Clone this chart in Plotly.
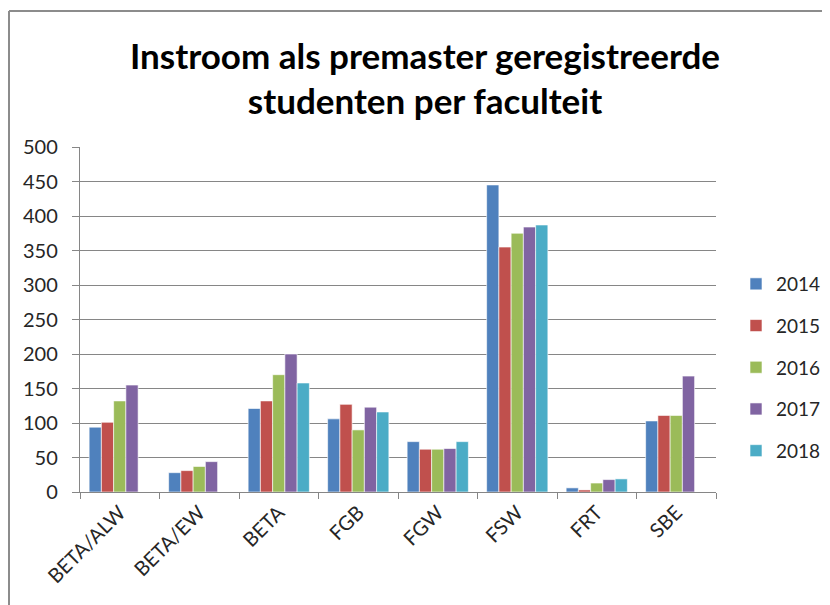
import plotly.graph_objects as go

categories = ["BETA/ALW", "BETA/EW", "BETA", "FGB", "FGW", "FSW", "FRT", "SBE"]
years = ["2014", "2015", "2016", "2017", "2018"]
v2014 = [94, 28, 121, 106, 73, 445, 6, 103]
v2015 = [101, 31, 132, 127, 62, 355, 3, 111]
v2016 = [132, 37, 170, 90, 62, 375, 13, 111]
v2017 = [155, 44, 200, 123, 63, 384, 18, 168]
v2018 = [None, None, 158, 116, 73, 387, 19, None]
series = [v2014, v2015, v2016, v2017, v2018]
colors = ["#4F81BD", "#C0504D", "#9BBB59", "#8064A2", "#4BACC6"]

FONT = "Lato, 'Noto Sans', sans-serif"

fig = go.Figure()
for name, vals, c in zip(years, series, colors):
    fig.add_trace(go.Bar(
        x=categories, y=vals, name=name, legendgroup=name,
        marker=dict(color=c, line=dict(color="rgba(255,255,255,0.6)", width=1)),
    ))

W, H = 830, 605
L, R, T, B = 72, 708, 139, 484
pw, ph = R - L, B - T

def px(x):
    return (x - L) / pw

def py(y):
    return (B - y) / ph

fig.update_layout(
    width=W, height=H,
    margin=dict(l=L, r=W - R, t=T, b=H - B, autoexpand=False),
    paper_bgcolor="white", plot_bgcolor="white",
    barmode="group", bargap=0.23, bargroupgap=0,
    title=dict(
        text="<b>Instroom als premaster geregistreerde<br>studenten per faculteit</b>",
        x=0.5024, xanchor="center", y=0.90, yanchor="middle",
        font=dict(family=FONT, size=35, color="#000000"),
    ),
    font=dict(family=FONT, size=20, color="#262626"),
    xaxis=dict(
        type="category", tickangle=-45, tickson="boundaries",
        ticks="outside", ticklen=6, tickcolor="#868686",
        showline=True, linecolor="#868686", linewidth=1,
        showgrid=False, tickfont=dict(size=20, color="#262626"),
        automargin=False,
    ),
    yaxis=dict(
        range=[0, 500], dtick=50, ticks="outside", ticklen=7, tickcolor="#868686",
        showline=True, linecolor="#868686", linewidth=1,
        showgrid=True, gridcolor="#868686", gridwidth=1,
        zeroline=False, tickfont=dict(size=20, color="#262626"),
        automargin=False, ticksuffix="\u00a0\u00a0",
    ),
    legend=dict(
        x=px(728), xanchor="left", y=py(257), yanchor="top",
        font=dict(size=19, color="#262626"),
        tracegroupgap=14, traceorder="grouped", itemwidth=30,
        bgcolor="rgba(0,0,0,0)",
    ),
    shapes=[
        dict(type="line", xref="paper", yref="paper",
             x0=px(1), x1=px(1), y0=py(3), y1=py(610),
             line=dict(color="#8c8c8c", width=2)),
        dict(type="line", xref="paper", yref="paper",
             x0=px(1), x1=px(835), y0=py(3), y1=py(3),
             line=dict(color="#8c8c8c", width=2)),
    ],
)

fig.write_html("out.html")
